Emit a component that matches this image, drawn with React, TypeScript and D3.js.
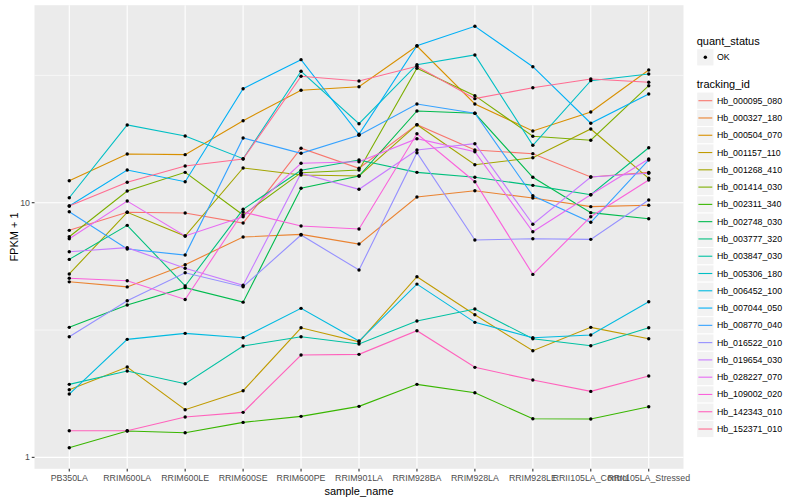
import React from "react";
import * as d3 from "d3";

const categories = [
  "PB350LA", "RRIM600LA", "RRIM600LE", "RRIM600SE", "RRIM600PE", "RRIM901LA",
  "RRIM928BA", "RRIM928LA", "RRIM928LE", "RRII105LA_Control", "RRII105LA_Stressed",
];

const trackingIds = [
  "Hb_000095_080", "Hb_000327_180", "Hb_000504_070", "Hb_001157_110", "Hb_001268_410",
  "Hb_001414_030", "Hb_002311_340", "Hb_002748_030", "Hb_003777_320", "Hb_003847_030",
  "Hb_005306_180", "Hb_006452_100", "Hb_007044_050", "Hb_008770_040", "Hb_016522_010",
  "Hb_019654_030", "Hb_028227_070", "Hb_109002_020", "Hb_142343_010", "Hb_152371_010",
];

const seriesColors = [
  "#F8766D", "#EA8331", "#D89000", "#C09B00", "#A3A500", "#7CAE00", "#39B600", "#00BB4E",
  "#00BF7D", "#00C1A3", "#00BFC4", "#00BAE0", "#00B0F6", "#35A2FF", "#9590FF", "#C77CFF",
  "#E76BF3", "#FA62DB", "#FF62BC", "#FF6C91",
];

// FPKM + 1 values, one per sample_name
const hb_000095_080 = [7.79, 9.17, 9.11, 8.32, 16.36, 13.65, 20.25, 16.11, 15.58, 12.62, 13.16];
const hb_000327_180 = [4.89, 4.67, 5.71, 7.33, 7.51, 6.88, 10.53, 11.14, 10.43, 9.65, 9.77];
const hb_000504_070 = [12.2, 15.54, 15.44, 20.99, 27.64, 28.55, 41.25, 24.42, 19.12, 22.71, 33.2];
const hb_001157_110 = [1.843, 2.263, 1.538, 1.827, 3.228, 2.844, 5.12, 3.632, 2.622, 3.24, 2.923];
const hb_001268_410 = [5.25, 9.17, 7.4, 13.69, 12.85, 12.73, 20.25, 14.1, 15.02, 19.48, 12.47];
const hb_001414_030 = [7.35, 11.12, 13.16, 8.95, 13.12, 13.44, 33.72, 26.33, 18.23, 17.59, 28.81];
const hb_002311_340 = [1.091, 1.269, 1.249, 1.372, 1.449, 1.586, 1.935, 1.794, 1.418, 1.414, 1.58];
const hb_002748_030 = [3.24, 3.965, 4.64, 4.07, 11.39, 12.73, 22.92, 22.45, 12.58, 9.14, 8.65];
const hb_003777_320 = [5.99, 8.15, 4.71, 9.42, 13.41, 14.72, 13.16, 12.58, 11.7, 10.75, 16.44];
const hb_003847_030 = [1.935, 2.183, 1.946, 2.736, 2.977, 2.786, 3.43, 3.824, 2.923, 2.744, 3.228];
const hb_005306_180 = [10.46, 20.2, 18.28, 14.89, 32.81, 20.43, 34.84, 38.03, 16.81, 30.15, 32.02];
const hb_006452_100 = [1.773, 2.907, 3.069, 2.95, 3.848, 2.862, 4.79, 3.39, 2.95, 3.022, 4.086];
const hb_007044_050 = [9.71, 13.44, 12.09, 28.04, 36.45, 18.56, 41.36, 49.3, 34.21, 20.51, 26.73];
const hb_008770_040 = [9.22, 6.58, 6.23, 17.96, 15.63, 18.4, 24.42, 22.45, 10.65, 8.38, 14.72];
const hb_016522_010 = [2.977, 4.12, 5.31, 4.68, 7.47, 5.44, 15.72, 7.14, 7.22, 7.18, 10.25];
const hb_019654_030 = [6.42, 6.66, 5.53, 4.74, 13.05, 11.29, 16.11, 17.05, 8.23, 12.62, 13.05];
const hb_028227_070 = [7.22, 10.15, 7.4, 8.81, 14.28, 14.49, 17.84, 15.86, 7.69, 10.75, 14.85];
const hb_109002_020 = [5.05, 4.94, 4.17, 9.19, 8.1, 7.88, 18.66, 12.09, 5.23, 8.81, 12.28];
const hb_142343_010 = [1.272, 1.272, 1.44, 1.502, 2.522, 2.538, 3.143, 2.257, 2.012, 1.816, 2.086];
const hb_152371_010 = [9.71, 12.03, 13.94, 14.85, 31.36, 30.06, 34.33, 25.62, 28.29, 30.61, 29.71];

const seriesValues = [
  hb_000095_080, hb_000327_180, hb_000504_070, hb_001157_110, hb_001268_410,
  hb_001414_030, hb_002311_340, hb_002748_030, hb_003777_320, hb_003847_030,
  hb_005306_180, hb_006452_100, hb_007044_050, hb_008770_040, hb_016522_010,
  hb_019654_030, hb_028227_070, hb_109002_020, hb_142343_010, hb_152371_010,
];

const yTicks = [1, 10];
const yMinor = [Math.sqrt(10), Math.sqrt(1000)];

const W = 800;
const H = 500;
const panel = { left: 34.5, right: 683.5, top: 5.2, bottom: 468.8 };
const FONT = "'Liberation Sans', Arial, Helvetica, sans-serif";

export default function App() {
  const all = seriesValues.flat();
  const lmin = Math.log10(d3.min(all) as number);
  const lmax = Math.log10(d3.max(all) as number);
  const pad = (lmax - lmin) * 0.05;

  const x = d3.scalePoint<string>().domain(categories).range([panel.left, panel.right]).padding(0.6);
  const y = d3
    .scaleLog()
    .domain([Math.pow(10, lmin - pad), Math.pow(10, lmax + pad)])
    .range([panel.bottom, panel.top]);

  const line = d3
    .line<number>()
    .x((_, i) => x(categories[i]) as number)
    .y((d) => y(d));

  const keyH = 17.28;
  const legX = 696.7;

  return (
    <div style={{ position: "fixed", left: 0, top: 0 }}>
      <svg width={W} height={H} style={{ display: "block", background: "#fff" }}>
        <rect x={0} y={0} width={W} height={H} fill="#fff" />
        <rect
          x={panel.left}
          y={panel.top}
          width={panel.right - panel.left}
          height={panel.bottom - panel.top}
          fill="#EBEBEB"
        />
        {yMinor.map((v) => (
          <line key={"mi" + v} x1={panel.left} x2={panel.right} y1={y(v)} y2={y(v)} stroke="#fff" strokeWidth={0.55} />
        ))}
        {yTicks.map((v) => (
          <line key={"ma" + v} x1={panel.left} x2={panel.right} y1={y(v)} y2={y(v)} stroke="#fff" strokeWidth={1.1} />
        ))}
        {categories.map((c) => (
          <line key={"vx" + c} x1={x(c)} x2={x(c)} y1={panel.top} y2={panel.bottom} stroke="#fff" strokeWidth={1.1} />
        ))}

        {seriesValues.map((vals, i) => (
          <path key={"l" + i} d={line(vals) || ""} fill="none" stroke={seriesColors[i]} strokeWidth={1.1} />
        ))}
        {seriesValues.map((vals, i) =>
          vals.map((v, j) => (
            <circle key={"p" + i + "_" + j} cx={x(categories[j])} cy={y(v)} r={1.7} fill="#000" />
          ))
        )}

        {/* y axis */}
        {yTicks.map((v) => (
          <g key={"yt" + v}>
            <line x1={panel.left - 2.75} x2={panel.left} y1={y(v)} y2={y(v)} stroke="#333" strokeWidth={1.1} />
            <text
              x={panel.left - 4.5}
              y={y(v)}
              textAnchor="end"
              dominantBaseline="central"
              fontFamily={FONT}
              fontSize={8.8}
              fill="#4D4D4D"
            >
              {v}
            </text>
          </g>
        ))}
        <text
          transform={`translate(13.5, ${(panel.top + panel.bottom) / 2}) rotate(-90)`}
          textAnchor="middle"
          dominantBaseline="central"
          fontFamily={FONT}
          fontSize={11}
          fill="#000"
        >
          FPKM + 1
        </text>

        {/* x axis */}
        {categories.map((c) => (
          <g key={"xt" + c}>
            <line x1={x(c)} x2={x(c)} y1={panel.bottom} y2={panel.bottom + 2.75} stroke="#333" strokeWidth={1.1} />
            <text
              x={x(c)}
              y={panel.bottom + 9.5}
              textAnchor="middle"
              dominantBaseline="central"
              fontFamily={FONT}
              fontSize={8.8}
              fill="#4D4D4D"
            >
              {c}
            </text>
          </g>
        ))}
        <text
          x={(panel.left + panel.right) / 2}
          y={490.5}
          textAnchor="middle"
          dominantBaseline="central"
          fontFamily={FONT}
          fontSize={11}
          fill="#000"
        >
          sample_name
        </text>

        {/* legend: quant_status */}
        <text x={legX} y={40.7} dominantBaseline="central" fontFamily={FONT} fontSize={11} fill="#000">
          quant_status
        </text>
        <rect x={legX} y={57.3 - keyH / 2} width={keyH} height={keyH} fill="#F2F2F2" stroke="#fff" strokeWidth={1} />
        <circle cx={legX + keyH / 2} cy={57.3} r={1.7} fill="#000" />
        <text x={legX + keyH + 3} y={57.3} dominantBaseline="central" fontFamily={FONT} fontSize={8.8} fill="#000">
          OK
        </text>

        {/* legend: tracking_id */}
        <text x={legX} y={84.3} dominantBaseline="central" fontFamily={FONT} fontSize={11} fill="#000">
          tracking_id
        </text>
        {trackingIds.map((id, i) => {
          const cy = 100.7 + i * keyH;
          return (
            <g key={"lg" + id}>
              <rect x={legX} y={cy - keyH / 2} width={keyH} height={keyH} fill="#F2F2F2" stroke="#fff" strokeWidth={1} />
              <line x1={legX + 1.7} x2={legX + keyH - 1.7} y1={cy} y2={cy} stroke={seriesColors[i]} strokeWidth={1.1} />
              <text x={legX + keyH + 3} y={cy} dominantBaseline="central" fontFamily={FONT} fontSize={8.8} fill="#000">
                {id}
              </text>
            </g>
          );
        })}
      </svg>
    </div>
  );
}
